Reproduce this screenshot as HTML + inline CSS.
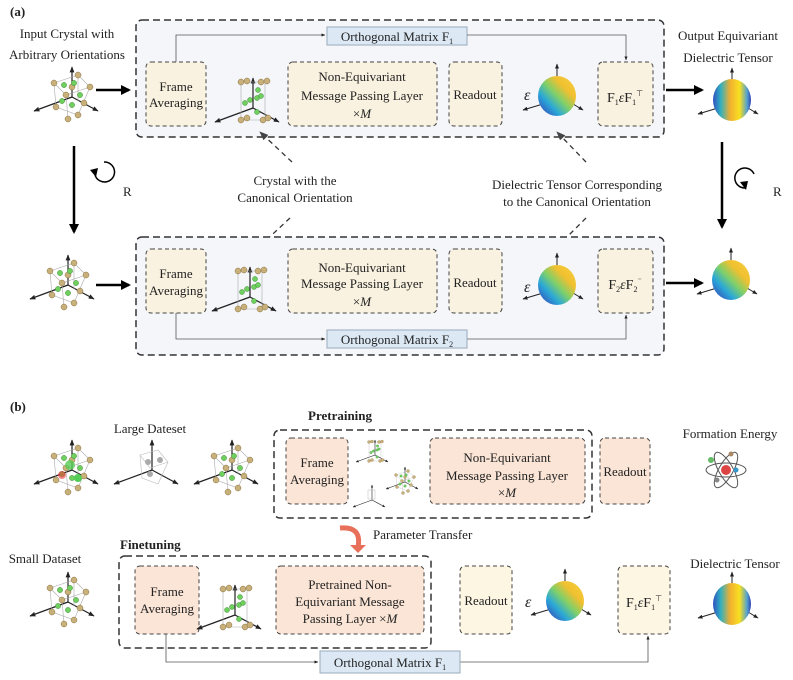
<!DOCTYPE html>
<html><head><meta charset="utf-8"><style>
html,body{margin:0;padding:0;background:#fff}
svg{display:block}
text{font-family:"Liberation Serif",serif;fill:#222}
</style></head><body>
<svg width="793" height="680" viewBox="0 0 793 680" xmlns="http://www.w3.org/2000/svg">
<defs>
<marker id="ah" viewBox="0 0 10 10" refX="9" refY="5" markerWidth="5" markerHeight="5" orient="auto"><path d="M0,1 L10,5 L0,9 z" fill="#222"/></marker>
<marker id="ahs" viewBox="0 0 10 10" refX="9" refY="5" markerWidth="7" markerHeight="7" orient="auto"><path d="M0,1 L10,5 L0,9 z" fill="#444"/></marker>
<marker id="ahb" viewBox="0 0 10 10" refX="8" refY="5" markerWidth="4" markerHeight="4" orient="auto"><path d="M0,0 L10,5 L0,10 z" fill="#000"/></marker>
<linearGradient id="sph" x1="0" y1="1" x2="1" y2="0">
<stop offset="0" stop-color="#3a2fb0"/><stop offset="0.3" stop-color="#2aa8d8"/><stop offset="0.5" stop-color="#7fd06a"/><stop offset="0.7" stop-color="#f0c030"/><stop offset="1" stop-color="#f7d040"/></linearGradient>
<linearGradient id="sph2" x1="0" y1="0" x2="1" y2="0">
<stop offset="0" stop-color="#3050c0"/><stop offset="0.2" stop-color="#30b0c0"/><stop offset="0.45" stop-color="#f0b030"/><stop offset="0.7" stop-color="#f8e020"/><stop offset="0.9" stop-color="#50a0d0"/><stop offset="1" stop-color="#3040b0"/></linearGradient>
<g id="axes">
<line x1="0" y1="0" x2="0" y2="-30" stroke="#222" stroke-width="1.2" marker-end="url(#ah)"/>
<line x1="0" y1="0" x2="-38" y2="14" stroke="#222" stroke-width="1.2" marker-end="url(#ah)"/>
<line x1="0" y1="0" x2="26" y2="14" stroke="#222" stroke-width="1.2" marker-end="url(#ah)"/>
</g>
<g id="cry">
<use href="#axes"/>
<path d="M-18,-14 L6,-22 L18,-10 L-6,-2 z M-18,-14 L-16,10 L6,18 L18,-10 M-6,-2 L-4,22 M6,-22 L6,4" fill="none" stroke="#aaa" stroke-width="0.6"/>
<g fill="#c8b07a" stroke="#8a7040" stroke-width="0.5">
<circle cx="-18" cy="-14" r="3"/><circle cx="6" cy="-22" r="3"/><circle cx="18" cy="-10" r="3"/><circle cx="-6" cy="-2" r="3"/><circle cx="-16" cy="10" r="3"/><circle cx="6" cy="18" r="3"/><circle cx="-4" cy="22" r="3"/><circle cx="0" cy="-10" r="3"/><circle cx="12" cy="6" r="3"/></g>
<g fill="#6fcf5f" stroke="#3a8a30" stroke-width="0.5">
<circle cx="-8" cy="-12" r="2.6"/><circle cx="2" cy="-14" r="2.6"/><circle cx="-10" cy="4" r="2.6"/><circle cx="0" cy="8" r="2.6"/><circle cx="8" cy="-2" r="2.6"/></g>
</g>
<g id="cry2">
<use href="#axes"/>
<path d="M-12,-26 L-12,12 M12,-26 L12,12 M-12,-26 L12,-26 M-12,12 L12,12" fill="none" stroke="#aaa" stroke-width="0.6"/>
<g fill="#c8b07a" stroke="#8a7040" stroke-width="0.5">
<circle cx="-12" cy="-26" r="3"/><circle cx="-6" cy="-27" r="3"/><circle cx="8" cy="-26" r="3"/><circle cx="14" cy="-27" r="3"/><circle cx="-12" cy="12" r="3"/><circle cx="-6" cy="10" r="3"/><circle cx="10" cy="12" r="3"/><circle cx="15" cy="10" r="3"/></g>
<g fill="#6fcf5f" stroke="#3a8a30" stroke-width="0.5">
<circle cx="-8" cy="-5" r="2.5"/><circle cx="-3" cy="-8" r="2.5"/><circle cx="5" cy="-18" r="2.5"/><circle cx="4" cy="-10" r="2.5"/><circle cx="8" cy="-12" r="2.5"/><circle cx="4" cy="4" r="2.5"/></g>
</g>
<g id="sphA">
<line x1="0" y1="-19" x2="0" y2="-32" stroke="#222" marker-end="url(#ah)"/>
<line x1="-14" y1="8" x2="-34" y2="14" stroke="#222" marker-end="url(#ah)"/>
<line x1="16" y1="8" x2="26" y2="14" stroke="#222" marker-end="url(#ah)"/>
<ellipse cx="0" cy="0" rx="19" ry="20" fill="url(#sph)"/>
</g>
<g id="sphB">
<line x1="0" y1="-19" x2="0" y2="-32" stroke="#222" marker-end="url(#ah)"/>
<line x1="-14" y1="8" x2="-34" y2="14" stroke="#222" marker-end="url(#ah)"/>
<line x1="16" y1="8" x2="26" y2="14" stroke="#222" marker-end="url(#ah)"/>
<ellipse cx="0" cy="0" rx="19" ry="21" fill="url(#sph2)"/>
</g>
</defs>

<text x="10" y="16" font-size="13" font-weight="bold">(a)</text>
<text x="67" y="38" font-size="13" text-anchor="middle">Input Crystal with</text>
<text x="67" y="59" font-size="13" text-anchor="middle">Arbitrary Orientations</text>
<use href="#cry" x="72" y="97"/>
<line x1="96" y1="90" x2="129" y2="90" stroke="#000" stroke-width="2.5" marker-end="url(#ahb)"/>

<rect x="136" y="20" width="528" height="117" rx="6" fill="#f5f6fa" stroke="#333" stroke-width="1.5" stroke-dasharray="7,4"/>
<rect x="327" y="27" width="140" height="18" fill="#dce9f5" stroke="#9ab"/>
<text x="397" y="41" font-size="13" text-anchor="middle">Orthogonal Matrix  F<tspan font-size="8" dy="3">1</tspan></text>
<polyline points="176,62 176,35 325,35" fill="none" stroke="#555" stroke-width="0.8" marker-end="url(#ah)"/>
<polyline points="467,35 626,35 626,60" fill="none" stroke="#555" stroke-width="0.8" marker-end="url(#ah)"/>
<g fill="#faf2e0" stroke="#444" stroke-width="1" stroke-dasharray="4,3">
<rect x="146" y="62" width="60" height="64" rx="5"/>
<rect x="288" y="62" width="149" height="64" rx="5"/>
<rect x="449" y="62" width="53" height="64" rx="5"/>
<rect x="598" y="62" width="55" height="64" rx="5"/>
</g>
<text x="176" y="91" font-size="13" text-anchor="middle">Frame</text>
<text x="176" y="107" font-size="13" text-anchor="middle">Averaging</text>
<use href="#cry2" x="253" y="108"/>
<text x="362" y="81" font-size="13" text-anchor="middle">Non-Equivariant</text>
<text x="362" y="100" font-size="13" text-anchor="middle">Message Passing Layer</text>
<text x="362" y="118" font-size="13" text-anchor="middle">×<tspan font-style="italic">M</tspan></text>
<text x="475" y="99" font-size="13" text-anchor="middle">Readout</text>
<text x="524" y="100" font-size="16" font-style="italic">ε</text>
<use href="#sphA" x="557" y="96"/>
<text x="625" y="102" font-size="14" text-anchor="middle">F<tspan font-size="8" dy="3">1</tspan><tspan dy="-3" font-style="italic">ε</tspan>F<tspan font-size="8" dy="3">1</tspan><tspan font-size="8" dy="-9">⊤</tspan></text>
<line x1="666" y1="90" x2="702" y2="90" stroke="#000" stroke-width="2.5" marker-end="url(#ahb)"/>
<text x="728" y="40" font-size="13" text-anchor="middle">Output Equivariant</text>
<text x="728" y="62" font-size="13" text-anchor="middle">Dielectric Tensor</text>
<use href="#sphB" x="732" y="100"/>

<line x1="74" y1="146" x2="74" y2="232" stroke="#000" stroke-width="2.5" marker-end="url(#ahb)"/>
<path d="M104,162 A10,10 0 1 1 95,175" fill="none" stroke="#000" stroke-width="1.5"/>
<path d="M90,170 L98,168 L96,177 z" fill="#000"/>
<text x="123" y="196" font-size="13">R</text>
<line x1="722" y1="142" x2="722" y2="227" stroke="#000" stroke-width="2.5" marker-end="url(#ahb)"/>
<path d="M754,174 A10,10 0 1 0 745,188" fill="none" stroke="#000" stroke-width="1.5"/>
<path d="M740,182 L748,181 L746,190 z" fill="#000"/>
<text x="773" y="196" font-size="13">R</text>

<g stroke="#333" stroke-width="1.3" stroke-dasharray="5,4" fill="none">
<line x1="292" y1="162" x2="260" y2="132" marker-end="url(#ahs)"/>
<line x1="290" y1="218" x2="260" y2="246" marker-end="url(#ahs)"/>
<line x1="586" y1="162" x2="557" y2="132" marker-end="url(#ahs)"/>
<line x1="586" y1="218" x2="558" y2="246" marker-end="url(#ahs)"/>
</g>
<text x="295" y="185" font-size="13" text-anchor="middle">Crystal with the</text>
<text x="295" y="202" font-size="13" text-anchor="middle">Canonical Orientation</text>
<text x="577" y="189" font-size="13" text-anchor="middle">Dielectric Tensor Corresponding</text>
<text x="577" y="206" font-size="13" text-anchor="middle">to the Canonical Orientation</text>

<use href="#cry" x="68" y="285"/>
<line x1="96" y1="285" x2="129" y2="285" stroke="#000" stroke-width="2.5" marker-end="url(#ahb)"/>
<rect x="136" y="237" width="528" height="118" rx="6" fill="#f5f6fa" stroke="#333" stroke-width="1.5" stroke-dasharray="7,4"/>
<g fill="#faf2e0" stroke="#444" stroke-width="1" stroke-dasharray="4,3">
<rect x="146" y="249" width="60" height="64" rx="5"/>
<rect x="288" y="249" width="149" height="64" rx="5"/>
<rect x="449" y="249" width="53" height="64" rx="5"/>
<rect x="598" y="249" width="55" height="64" rx="5"/>
</g>
<text x="176" y="278" font-size="13" text-anchor="middle">Frame</text>
<text x="176" y="295" font-size="13" text-anchor="middle">Averaging</text>
<use href="#cry2" x="250" y="297"/>
<text x="362" y="272" font-size="13" text-anchor="middle">Non-Equivariant</text>
<text x="362" y="288" font-size="13" text-anchor="middle">Message Passing Layer</text>
<text x="362" y="306" font-size="13" text-anchor="middle">×<tspan font-style="italic">M</tspan></text>
<text x="475" y="287" font-size="13" text-anchor="middle">Readout</text>
<text x="524" y="292" font-size="16" font-style="italic">ε</text>
<use href="#sphA" x="557" y="285"/>
<text x="625" y="289" font-size="14" text-anchor="middle">F<tspan font-size="8" dy="3">2</tspan><tspan dy="-3" font-style="italic">ε</tspan>F<tspan font-size="8" dy="3">2</tspan><tspan font-size="8" dy="-9">⁻</tspan></text>
<polyline points="176,313 176,339 325,339" fill="none" stroke="#555" stroke-width="0.8" marker-end="url(#ah)"/>
<polyline points="467,339 626,339 626,315" fill="none" stroke="#555" stroke-width="0.8" marker-end="url(#ah)"/>
<rect x="327" y="330" width="140" height="18" fill="#dce9f5" stroke="#9ab"/>
<text x="397" y="344" font-size="13" text-anchor="middle">Orthogonal Matrix  F<tspan font-size="8" dy="3">2</tspan></text>
<line x1="666" y1="283" x2="702" y2="283" stroke="#000" stroke-width="2.5" marker-end="url(#ahb)"/>
<use href="#sphA" x="731" y="280"/>

<text x="10" y="411" font-size="13" font-weight="bold">(b)</text>
<text x="150" y="433" font-size="13" text-anchor="middle">Large Dateset</text>
<use href="#cry" x="72" y="470"/>
<circle cx="70" cy="465" r="5" fill="#5c5" opacity="0.8"/><circle cx="62" cy="475" r="4" fill="#e33" opacity="0.6"/><circle cx="78" cy="478" r="4" fill="#5c5"/>
<use href="#axes" x="152" y="470"/>
<path d="M140,455 L158,450 L168,462 L150,468 z M140,455 L142,478 L158,484 L168,462" fill="none" stroke="#bbb" stroke-width="0.6"/>
<circle cx="148" cy="462" r="3" fill="#aaa"/><circle cx="160" cy="460" r="3" fill="#aaa"/><circle cx="150" cy="474" r="3" fill="#aaa"/>
<use href="#cry" x="232" y="470"/>
<text x="308" y="420" font-size="13" font-weight="bold">Pretraining</text>
<rect x="274" y="430" width="318" height="88" rx="6" fill="none" stroke="#333" stroke-width="1.5" stroke-dasharray="7,4"/>
<g fill="#fbe5d6" stroke="#444" stroke-width="1" stroke-dasharray="4,3">
<rect x="286" y="438" width="62" height="66" rx="5"/>
<rect x="430" y="438" width="155" height="66" rx="5"/>
<rect x="600" y="438" width="50" height="66" rx="5"/>
</g>
<text x="317" y="467" font-size="13" text-anchor="middle">Frame</text>
<text x="317" y="484" font-size="13" text-anchor="middle">Averaging</text>
<g transform="translate(375,455) scale(0.5)"><use href="#cry2"/></g>
<g transform="translate(405,482) scale(0.5)"><use href="#cry"/></g>
<g transform="translate(372,500) scale(0.5)"><use href="#axes"/><rect x="-8" y="-20" width="14" height="18" fill="none" stroke="#bbb"/></g>
<text x="507" y="462" font-size="13" text-anchor="middle">Non-Equivariant</text>
<text x="507" y="480" font-size="13" text-anchor="middle">Message Passing Layer</text>
<text x="507" y="497" font-size="13" text-anchor="middle">×<tspan font-style="italic">M</tspan></text>
<text x="625" y="476" font-size="13" text-anchor="middle">Readout</text>
<text x="730" y="438" font-size="13" text-anchor="middle">Formation Energy</text>
<g fill="none" stroke="#555" stroke-width="1">
<ellipse cx="726" cy="470" rx="20" ry="7"/>
<ellipse cx="726" cy="470" rx="20" ry="7" transform="rotate(60 726 470)"/>
<ellipse cx="726" cy="470" rx="20" ry="7" transform="rotate(-60 726 470)"/>
</g>
<circle cx="726" cy="470" r="5" fill="#d44"/><circle cx="711" cy="460" r="3" fill="#6b6"/><circle cx="736" cy="470" r="2.5" fill="#39c"/><circle cx="731" cy="454" r="2.5" fill="#a86"/><circle cx="717" cy="480" r="2.5" fill="#888"/>

<path d="M340,528 Q362,526 358,547" fill="none" stroke="#e8705a" stroke-width="5"/>
<path d="M350,545 L366,545 L358,553 z" fill="#e8705a"/>
<text x="373" y="539" font-size="13">Parameter Transfer</text>
<text x="120" y="549" font-size="13" font-weight="bold">Finetuning</text>
<text x="45" y="563" font-size="13" text-anchor="middle">Small Dataset</text>
<use href="#cry" x="68" y="602"/>
<rect x="119" y="556" width="312" height="92" rx="6" fill="none" stroke="#333" stroke-width="1.5" stroke-dasharray="7,4"/>
<g fill="#fbe5d6" stroke="#444" stroke-width="1" stroke-dasharray="4,3">
<rect x="135" y="566" width="64" height="68" rx="5"/>
<rect x="276" y="566" width="148" height="68" rx="5"/>
</g>
<rect x="460" y="566" width="52" height="68" rx="5" fill="#fdf6e3" stroke="#444" stroke-dasharray="4,3"/>
<rect x="618" y="566" width="52" height="68" rx="5" fill="#fdf6e3" stroke="#444" stroke-dasharray="4,3"/>
<text x="167" y="596" font-size="13" text-anchor="middle">Frame</text>
<text x="167" y="613" font-size="13" text-anchor="middle">Averaging</text>
<use href="#cry2" x="235" y="615"/>
<text x="350" y="589" font-size="13" text-anchor="middle">Pretrained Non-</text>
<text x="350" y="606" font-size="13" text-anchor="middle">Equivariant Message</text>
<text x="350" y="623" font-size="13" text-anchor="middle">Passing Layer ×<tspan font-style="italic">M</tspan></text>
<text x="486" y="605" font-size="13" text-anchor="middle">Readout</text>
<text x="525" y="607" font-size="16" font-style="italic">ε</text>
<use href="#sphA" x="565" y="601"/>
<text x="644" y="607" font-size="14" text-anchor="middle">F<tspan font-size="8" dy="3">1</tspan><tspan dy="-3" font-style="italic">ε</tspan>F<tspan font-size="8" dy="3">1</tspan><tspan font-size="8" dy="-9">⊤</tspan></text>
<text x="735" y="568" font-size="13" text-anchor="middle">Dielectric Tensor</text>
<use href="#sphB" x="732" y="604"/>
<polyline points="166,634 166,662 318,662" fill="none" stroke="#555" stroke-width="0.8" marker-end="url(#ah)"/>
<polyline points="460,662 648,662 648,636" fill="none" stroke="#555" stroke-width="0.8" marker-end="url(#ah)"/>
<rect x="320" y="651" width="140" height="22" fill="#dce9f5" stroke="#9ab"/>
<text x="390" y="667" font-size="13" text-anchor="middle">Orthogonal Matrix  F<tspan font-size="8" dy="3">1</tspan></text>
</svg>
</body></html>
